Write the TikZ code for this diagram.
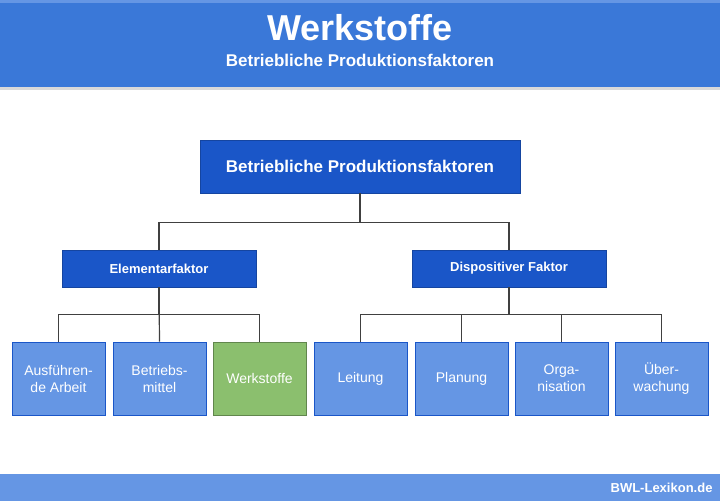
\documentclass[tikz,border=0pt]{standalone}
\usepackage{fontspec}
\setmainfont{Liberation Sans}
\usetikzlibrary{positioning}
\definecolor{hblue}{HTML}{3A78D8}
\definecolor{dblue}{HTML}{1A56C8}
\definecolor{lblue}{HTML}{6596E4}
\definecolor{gbox}{HTML}{8BBF6E}
\tikzstyle{head}=[fill=dblue,draw=dblue!80!black,text=white,font=\bfseries]
\tikzstyle{leaf}=[fill=lblue,draw=dblue,line width=1pt,text=white,minimum width=93pt,minimum height=73pt,align=center,font=\fontsize{14}{17}\selectfont]
\tikzstyle{conn}=[draw=black!75,line width=1.2pt]

\begin{document}
\begin{tikzpicture}[x=1pt,y=-1pt]
        \useasboundingbox (0,0) rectangle (720,501);
        \fill[hblue] (0,0) rectangle (720,87);
        \fill[lblue] (0,0) rectangle (720,3);
        \fill[black!15] (0,87) rectangle (720,90);
        \fill[lblue] (0,474) rectangle (720,501);
        \node[text=white,font=\bfseries\fontsize{36}{38}\selectfont] (title) at (360,28) {Werkstoffe};
        \node[text=white,font=\bfseries\fontsize{17}{19}\selectfont] (sub) at (360,60) {Betriebliche Produktionsfaktoren};
        \node[text=white,font=\bfseries\fontsize{13}{15}\selectfont,anchor=east] (web) at (716,488) {BWL-Lexikon.de};
        %
        \node[head,minimum width=320pt,minimum height=53pt,font=\bfseries\fontsize{17}{19}\selectfont] (top) at (360,166.5) {Betriebliche Produktionsfaktoren};
        \node[head,minimum width=194pt,minimum height=37pt,font=\bfseries\fontsize{13}{15}\selectfont] (elem) at (159,268.5) {Elementarfaktor};
        \node[head,minimum width=194pt,minimum height=37pt,font=\bfseries\fontsize{13}{15}\selectfont] (disp) at (509,268.5) {Dispositiver Faktor};
        %
        \node[leaf] (arb) at (58.5,378.5) {Ausführen-\\de Arbeit};
        \node[leaf] (bm) at (159.5,378.5) {Betriebs-\\mittel};
        \node[leaf,fill=gbox,draw=gbox!70!black] (ws) at (259.5,378.5) {Werkstoffe};
        \node[leaf] (ltg) at (360.5,378.5) {Leitung};
        \node[leaf] (pl) at (461.5,378.5) {Planung};
        \node[leaf] (org) at (561.5,378.5) {Orga-\\nisation};
        \node[leaf] (ueb) at (661.5,378.5) {Über-\\wachung};
        %
        \draw[conn] (top.south) -- +(0,29) -| (elem.north);
        \draw[conn] (top.south) -- +(0,29) -| (disp.north);
        \draw[conn] (elem.south) -- +(0,27) -| (arb.north);
        \draw[conn] (elem.south) -- +(0,27) -| (ws.north);
        \draw[conn] (elem.south) -- (bm.north);
        \draw[conn] (disp.south) -- +(0,27) -| (ltg.north);
        \draw[conn] (disp.south) -- +(0,27) -| (ueb.north);
        \draw[conn] (pl.north) -- +(0,-27);
        \draw[conn] (org.north) -- +(0,-27);
\end{tikzpicture}
\end{document}
